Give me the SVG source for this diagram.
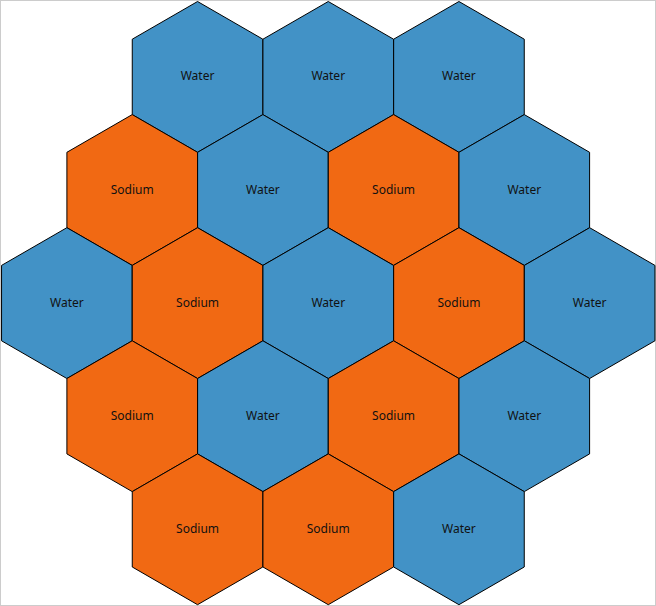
<svg xmlns="http://www.w3.org/2000/svg" xmlns:xlink="http://www.w3.org/1999/xlink" width="656" height="606" viewBox="0 0 656 606">
<style>
.w{fill:#4292c6}
.s{fill:#f16913}
.h{stroke:#000;stroke-width:1}
text{font-family:"Noto Sans","DejaVu Sans",sans-serif;font-size:12px;fill:#111;text-anchor:middle;dominant-baseline:central}
</style>
<defs>
<polygon id="hex" points="0,-75.4 65.3,-37.7 65.3,37.7 0,75.4 -65.3,37.7 -65.3,-37.7"/>
</defs>
<rect x="0.5" y="0.5" width="655" height="605" fill="#fff" stroke="#ccc"/>
<g id="connectors"></g>
<g id="n1" transform="translate(197.55,76.9)"><use xlink:href="#hex" class="h w"/><text y="-1">Water</text></g>
<g id="n2" transform="translate(328.25,76.9)"><use xlink:href="#hex" class="h w"/><text y="-1">Water</text></g>
<g id="n3" transform="translate(458.95,76.9)"><use xlink:href="#hex" class="h w"/><text y="-1">Water</text></g>
<g id="n4" transform="translate(132.2,190)"><use xlink:href="#hex" class="h s"/><text y="-1">Sodium</text></g>
<g id="n5" transform="translate(262.9,190)"><use xlink:href="#hex" class="h w"/><text y="-1">Water</text></g>
<g id="n6" transform="translate(393.6,190)"><use xlink:href="#hex" class="h s"/><text y="-1">Sodium</text></g>
<g id="n7" transform="translate(524.3,190)"><use xlink:href="#hex" class="h w"/><text y="-1">Water</text></g>
<g id="n8" transform="translate(66.85,303.1)"><use xlink:href="#hex" class="h w"/><text y="-1">Water</text></g>
<g id="n9" transform="translate(197.55,303.1)"><use xlink:href="#hex" class="h s"/><text y="-1">Sodium</text></g>
<g id="n10" transform="translate(328.25,303.1)"><use xlink:href="#hex" class="h w"/><text y="-1">Water</text></g>
<g id="n11" transform="translate(458.95,303.1)"><use xlink:href="#hex" class="h s"/><text y="-1">Sodium</text></g>
<g id="n12" transform="translate(589.65,303.1)"><use xlink:href="#hex" class="h w"/><text y="-1">Water</text></g>
<g id="n13" transform="translate(132.2,416.2)"><use xlink:href="#hex" class="h s"/><text y="-1">Sodium</text></g>
<g id="n14" transform="translate(262.9,416.2)"><use xlink:href="#hex" class="h w"/><text y="-1">Water</text></g>
<g id="n15" transform="translate(393.6,416.2)"><use xlink:href="#hex" class="h s"/><text y="-1">Sodium</text></g>
<g id="n16" transform="translate(524.3,416.2)"><use xlink:href="#hex" class="h w"/><text y="-1">Water</text></g>
<g id="n17" transform="translate(197.55,529.3)"><use xlink:href="#hex" class="h s"/><text y="-1">Sodium</text></g>
<g id="n18" transform="translate(328.25,529.3)"><use xlink:href="#hex" class="h s"/><text y="-1">Sodium</text></g>
<g id="n19" transform="translate(458.95,529.3)"><use xlink:href="#hex" class="h w"/><text y="-1">Water</text></g>
</svg>
